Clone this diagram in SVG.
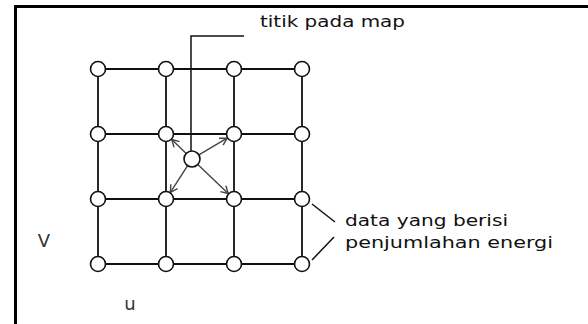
<svg xmlns="http://www.w3.org/2000/svg" width="588" height="324" viewBox="0 0 588 324">
<style>
.grid{stroke:#111;stroke-width:1.8;fill:none}
.node{fill:#fff;stroke:#111;stroke-width:1.6}
.arr{stroke:#444;stroke-width:1.4;fill:none;marker-end:url(#ah)}
.lead{stroke:#111;stroke-width:1.5;fill:none}
.txt{font-family:"DejaVu Sans",sans-serif;font-size:15px;fill:#111}
.lbl{font-family:"DejaVu Sans",sans-serif;font-size:18px;fill:#333}
</style>
<defs>
<marker id="ah" markerWidth="10" markerHeight="10" refX="8" refY="5" orient="auto" markerUnits="userSpaceOnUse">
<path d="M1,1 L8,5 L1,9" fill="none" stroke="#444" stroke-width="1.4"/>
</marker>
</defs>
<rect width="588" height="324" fill="#fff"/>
<g id="frame">
<line x1="15.5" y1="5" x2="15.5" y2="324" stroke="#000" stroke-width="3"/>
<line x1="14" y1="6.5" x2="588" y2="6.5" stroke="#000" stroke-width="3"/>
</g>
<g id="connectors">
<g class="grid">
<line x1="98" y1="69" x2="302" y2="69"/>
<line x1="98" y1="134" x2="302" y2="134"/>
<line x1="98" y1="199" x2="302" y2="199"/>
<line x1="98" y1="264" x2="302" y2="264"/>
<line x1="98" y1="69" x2="98" y2="264"/>
<line x1="166" y1="69" x2="166" y2="264"/>
<line x1="234" y1="69" x2="234" y2="264"/>
<line x1="302" y1="69" x2="302" y2="264"/>
</g>
<polyline class="lead" points="244,36 191,36 191,151"/>
<line class="lead" x1="312" y1="204" x2="335" y2="222"/>
<line class="lead" x1="312" y1="260" x2="334" y2="237"/>
<line class="arr" x1="186.2" y1="153.5" x2="171.8" y2="139.6"/>
<line class="arr" x1="198.9" y1="154.9" x2="227.1" y2="138.1"/>
<line class="arr" x1="187.6" y1="165.7" x2="170.4" y2="192.3"/>
<line class="arr" x1="197.8" y1="164.5" x2="228.2" y2="193.5"/>
</g>
<g id="nodes">
<g id="n11"><circle class="node" cx="98" cy="69" r="7.5"/></g>
<g id="n12"><circle class="node" cx="166" cy="69" r="7.5"/></g>
<g id="n13"><circle class="node" cx="234" cy="69" r="7.5"/></g>
<g id="n14"><circle class="node" cx="302" cy="69" r="7.5"/></g>
<g id="n21"><circle class="node" cx="98" cy="134" r="7.5"/></g>
<g id="n22"><circle class="node" cx="166" cy="134" r="7.5"/></g>
<g id="n23"><circle class="node" cx="234" cy="134" r="7.5"/></g>
<g id="n24"><circle class="node" cx="302" cy="134" r="7.5"/></g>
<g id="n31"><circle class="node" cx="98" cy="199" r="7.5"/></g>
<g id="n32"><circle class="node" cx="166" cy="199" r="7.5"/></g>
<g id="n33"><circle class="node" cx="234" cy="199" r="7.5"/></g>
<g id="n34"><circle class="node" cx="302" cy="199" r="7.5"/></g>
<g id="n41"><circle class="node" cx="98" cy="264" r="7.5"/></g>
<g id="n42"><circle class="node" cx="166" cy="264" r="7.5"/></g>
<g id="n43"><circle class="node" cx="234" cy="264" r="7.5"/></g>
<g id="n44"><circle class="node" cx="302" cy="264" r="7.5"/></g>
<g id="center"><circle class="node" cx="192" cy="159" r="8"/></g>
</g>
<g id="labels">
<text class="txt" x="260" y="27" textLength="145" lengthAdjust="spacingAndGlyphs">titik pada map</text>
<text class="txt" x="345" y="226" textLength="163" lengthAdjust="spacingAndGlyphs">data yang berisi</text>
<text class="txt" x="345" y="248" textLength="208" lengthAdjust="spacingAndGlyphs">penjumlahan energi</text>
<text class="lbl" x="44" y="247" text-anchor="middle">V</text>
<text class="lbl" x="130" y="310" text-anchor="middle">u</text>
</g>
</svg>
